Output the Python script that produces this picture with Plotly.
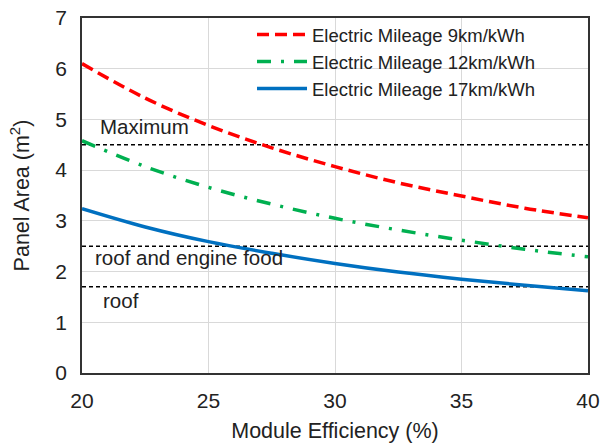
import plotly.graph_objects as go

efficiency = [20, 22.5, 25, 27.5, 30, 32.5, 35, 37.5, 40]
area_9 = [6.10, 5.42, 4.88, 4.44, 4.07, 3.75, 3.49, 3.25, 3.06]
area_12 = [4.58, 4.07, 3.66, 3.33, 3.05, 2.82, 2.62, 2.44, 2.29]
area_17 = [3.24, 2.88, 2.59, 2.36, 2.16, 1.99, 1.85, 1.73, 1.62]

limit_names = ["Maximum", "roof and engine food", "roof"]
limit_values = [4.5, 2.5, 1.7]
limit_label_y = [4.86, 2.27, 1.42]
limit_label_x = [20.65, 20.45, 20.75]

series_names = ["Electric Mileage 9km/kWh", "Electric Mileage 12km/kWh", "Electric Mileage 17km/kWh"]

font = "Liberation Sans, Arial, sans-serif"

fig = go.Figure()
for val in limit_values:
    fig.add_trace(go.Scatter(x=[20, 40], y=[val, val], mode="lines",
                             line=dict(color="black", width=1.5, dash="4px,3px"),
                             showlegend=False, hoverinfo="skip"))

fig.add_trace(go.Scatter(x=efficiency, y=area_9, mode="lines", name=series_names[0],
                         line=dict(color="#ff0000", width=3.5, dash="12px,6px", shape="spline")))
fig.add_trace(go.Scatter(x=efficiency, y=area_12, mode="lines", name=series_names[1],
                         line=dict(color="#00b050", width=3.5, dash="14px,10px,3px,10px", shape="spline")))
fig.add_trace(go.Scatter(x=efficiency, y=area_17, mode="lines", name=series_names[2],
                         line=dict(color="#0070c0", width=3.5, shape="spline")))

for name, lx, ly in zip(limit_names, limit_label_x, limit_label_y):
    fig.add_annotation(x=lx, y=ly, text=name, showarrow=False, xanchor="left",
                       font=dict(family=font, size=20.5, color="#222"))

fig.update_layout(
    width=600, height=443,
    margin=dict(l=82, r=12, t=18, b=70),
    paper_bgcolor="white", plot_bgcolor="white",
    font=dict(family=font, color="#222"),
    legend=dict(x=0.336, y=1.006, xanchor="left", yanchor="top", bgcolor="rgba(0,0,0,0)",
                font=dict(family=font, size=18.5), tracegroupgap=0, itemwidth=50),
    xaxis=dict(range=[20, 40], dtick=5, showgrid=True, gridcolor="#d9d9d9", gridwidth=1,
               showline=True, linecolor="#333", linewidth=1.5, mirror=True, ticks="",
               tickfont=dict(size=21), zeroline=False, automargin=False, ticklabelstandoff=8,
               title=dict(text="Module Efficiency (%)", font=dict(size=21.5), standoff=15)),
    yaxis=dict(range=[0, 7], dtick=1, showgrid=True, gridcolor="#d9d9d9", gridwidth=1,
               showline=True, linecolor="#333", linewidth=1.5, mirror=True, ticks="",
               tickfont=dict(size=21), zeroline=False, automargin=False, ticklabelstandoff=9,
               title=dict(text="Panel Area (m<sup>2</sup>)", font=dict(size=21.5), standoff=20)),
)

fig.write_html("out.html", config={"displayModeBar": False},
               post_script="document.body.style.margin='0';document.body.style.padding='0';")
